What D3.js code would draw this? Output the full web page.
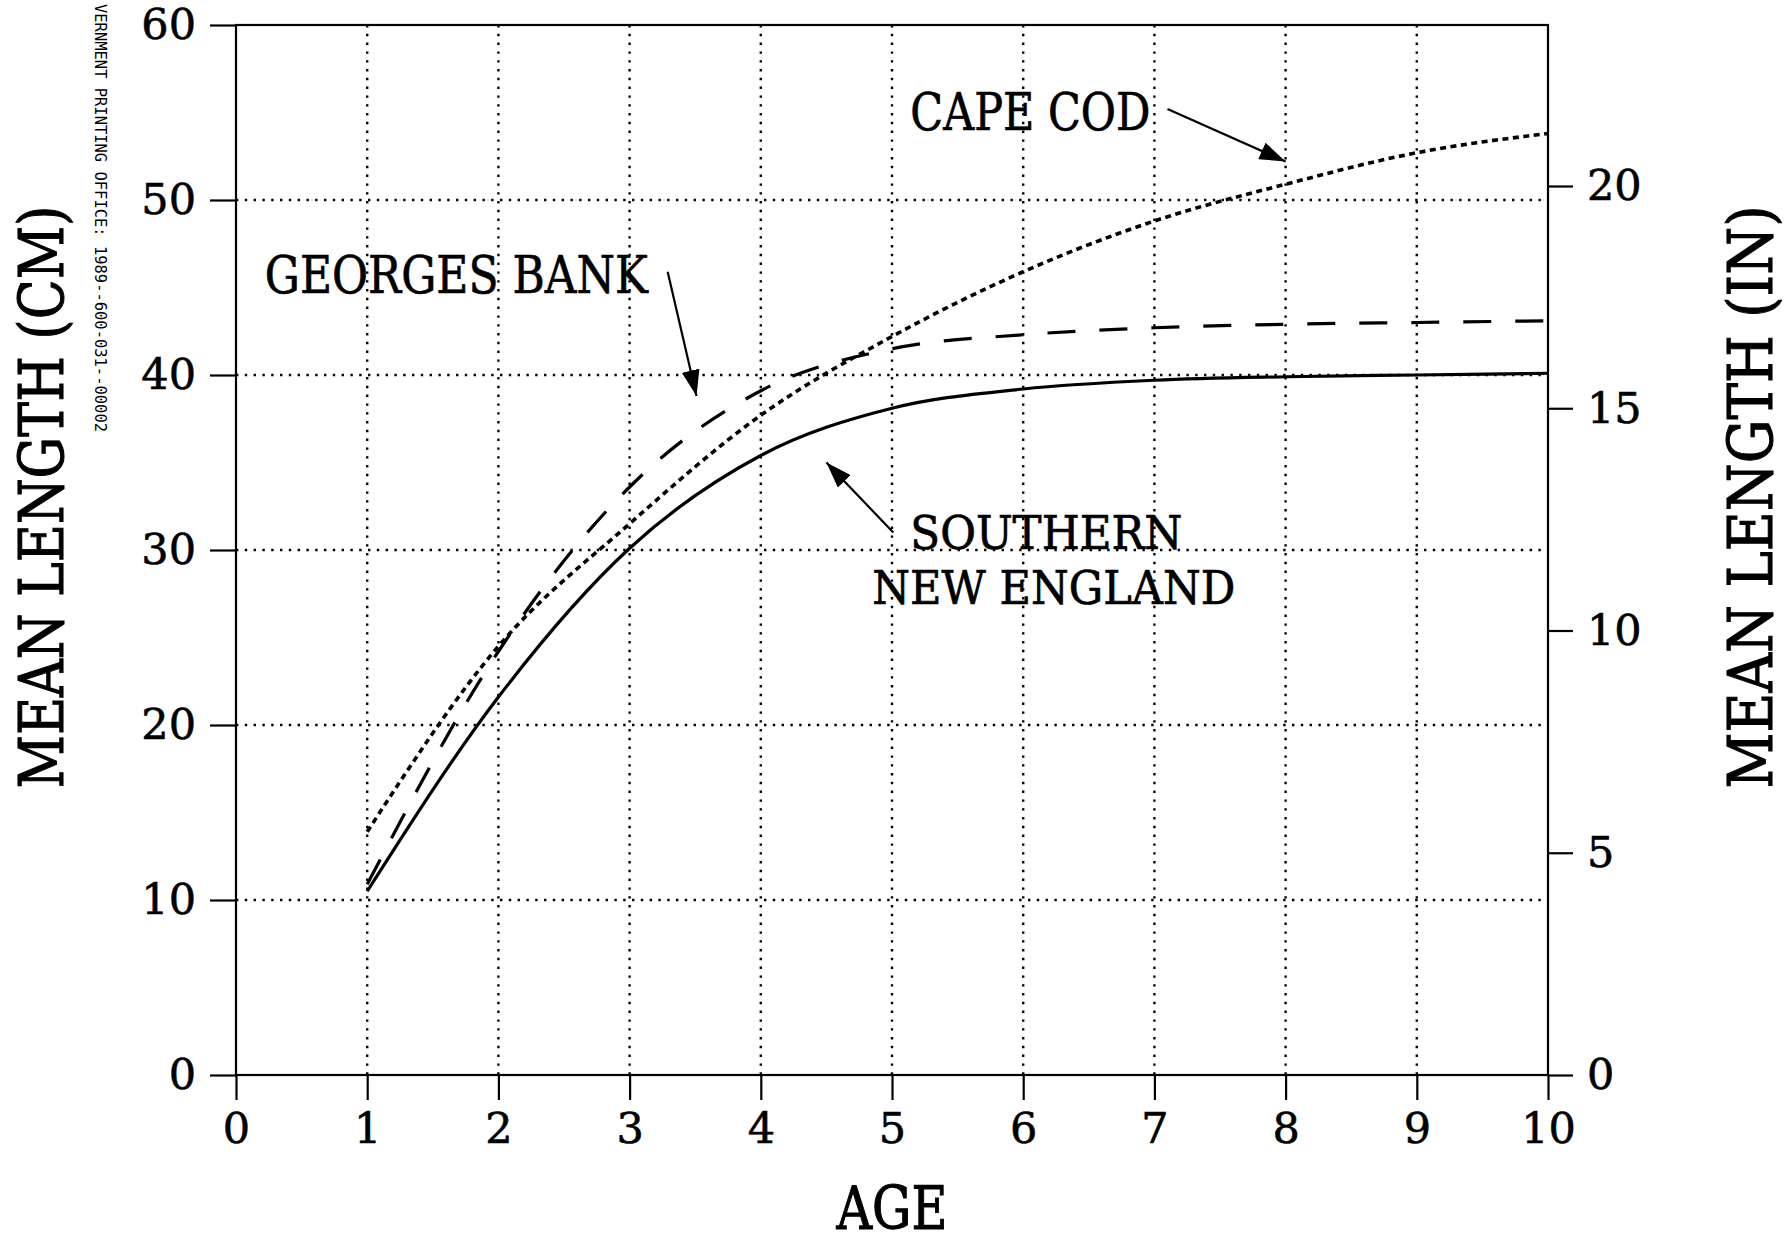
<!DOCTYPE html>
<style>
body { margin: 0; background: #fff; }
text { font-family: "DejaVu Serif", serif; fill: #000; stroke: #000; stroke-width: 0.7; }
.axis .domain { display: none; }
.axis line { stroke: #000; stroke-width: 2.2; }
.axis text { font-family: "DejaVu Serif", serif; font-size: 43px; stroke: #000; stroke-width: 0.6; }
</style>
<svg width="1790" height="1245" class="chart"></svg>
<script src="https://d3js.org/d3.v7.min.js"></script>
<script>

var ages = [1, 2, 3, 4, 5, 6, 7, 8, 9, 10];
var southernNE = [10.5, 21.6, 30.1, 35.4, 38.1, 39.2, 39.7, 39.9, 40.0, 40.1];
var capeCod    = [13.9, 24.5, 31.5, 37.7, 42.2, 45.9, 48.8, 50.9, 52.7, 53.8];
var georges    = [10.9, 24.2, 33.6, 39.1, 41.5, 42.3, 42.7, 42.9, 43.0, 43.1];

var ageTicks = [0, 1, 2, 3, 4, 5, 6, 7, 8, 9, 10];
var cmTicks = [0, 10, 20, 30, 40, 50, 60];
var inTicks = [0, 5, 10, 15, 20];

var svg = d3.select(".chart"),
    margin = {top: 25, right: 242, bottom: 170, left: 236},
    width = +svg.attr("width") - margin.left - margin.right,
    height = +svg.attr("height") - margin.top - margin.bottom,
    g = svg.append("g").attr("transform", "translate(" + margin.left + "," + margin.top + ")");

var x = d3.scaleLinear().domain([0, 10]).range([0, width]);
var y = d3.scaleLinear().domain([0, 60]).range([height, 0]);
var yIn = d3.scaleLinear().domain([0, 60 / 2.54]).range([height, 0]);

// dotted grid
g.append("g")
  .selectAll("line")
  .data(ages.slice(0, 9))
  .enter().append("line")
    .attr("x1", function(d) { return x(d); })
    .attr("x2", function(d) { return x(d); })
    .attr("y1", 0)
    .attr("y2", height)
    .attr("stroke", "#000")
    .attr("stroke-width", 2.4)
    .attr("stroke-dasharray", "2.4,6.4");

g.append("g")
  .selectAll("line")
  .data(cmTicks.slice(1, 6))
  .enter().append("line")
    .attr("x1", 0)
    .attr("x2", width)
    .attr("y1", function(d) { return y(d); })
    .attr("y2", function(d) { return y(d); })
    .attr("stroke", "#000")
    .attr("stroke-width", 2.4)
    .attr("stroke-dasharray", "2.4,6.4");

// frame
g.append("rect")
    .attr("width", width)
    .attr("height", height)
    .attr("fill", "none")
    .attr("stroke", "#000")
    .attr("stroke-width", 2.2);

// axes
g.append("g")
    .attr("class", "axis")
    .attr("transform", "translate(0," + height + ")")
    .call(d3.axisBottom(x).tickValues(ageTicks).tickSize(25).tickPadding(12).tickFormat(d3.format("d")));

g.append("g")
    .attr("class", "axis")
    .call(d3.axisLeft(y).tickValues(cmTicks).tickSize(26).tickPadding(14).tickFormat(d3.format("d")));

g.append("g")
    .attr("class", "axis")
    .attr("transform", "translate(" + width + ",0)")
    .call(d3.axisRight(yIn).tickValues(inTicks).tickSize(25).tickPadding(14).tickFormat(d3.format("d")));

// curves
var line = d3.line()
    .x(function(d) { return x(d[0]); })
    .y(function(d) { return y(d[1]); })
    .curve(d3.curveMonotoneX);

function pairs(vals) { return ages.map(function(a, i) { return [a, vals[i]]; }); }

g.append("path")
    .datum(pairs(southernNE))
    .attr("d", line)
    .attr("fill", "none")
    .attr("stroke", "#000")
    .attr("stroke-width", 3.2);

g.append("path")
    .datum(pairs(capeCod))
    .attr("d", line)
    .attr("fill", "none")
    .attr("stroke", "#000")
    .attr("stroke-width", 3.6)
    .attr("stroke-dasharray", "6,4.5");

g.append("path")
    .datum(pairs(georges))
    .attr("d", line)
    .attr("fill", "none")
    .attr("stroke", "#000")
    .attr("stroke-width", 3.2)
    .attr("stroke-dasharray", "28,24");

// arrows
svg.append("defs").append("marker")
    .attr("id", "head")
    .attr("markerUnits", "userSpaceOnUse")
    .attr("viewBox", "0 -9 26 18")
    .attr("refX", 26)
    .attr("refY", 0)
    .attr("markerWidth", 26)
    .attr("markerHeight", 18)
    .attr("orient", "auto")
  .append("path")
    .attr("d", "M0,-9L26,0L0,9Z")
    .attr("fill", "#000");

var arrows = [
  [[7.1, 55.2], [8.0, 52.2]],
  [[3.29, 45.9], [3.51, 38.8]],
  [[5.01, 31.0], [4.5, 35.0]]
];

g.append("g")
  .selectAll("line")
  .data(arrows)
  .enter().append("line")
    .attr("x1", function(d) { return x(d[0][0]); })
    .attr("y1", function(d) { return y(d[0][1]); })
    .attr("x2", function(d) { return x(d[1][0]); })
    .attr("y2", function(d) { return y(d[1][1]); })
    .attr("stroke", "#000")
    .attr("stroke-width", 2.2)
    .attr("marker-end", "url(#head)");

// curve labels
var labels = [
  {text: "CAPE COD", x: 5.14, y: 54.0, len: 240, size: 52},
  {text: "GEORGES BANK", x: 0.22, y: 44.7, len: 383, size: 52},
  {text: "SOUTHERN", x: 5.14, y: 30.05, len: 272, size: 46},
  {text: "NEW ENGLAND", x: 4.85, y: 26.9, len: 363, size: 46}
];

g.append("g")
  .selectAll("text")
  .data(labels)
  .enter().append("text")
    .attr("x", function(d) { return x(d.x); })
    .attr("y", function(d) { return y(d.y); })
    .attr("font-size", function(d) { return d.size; })
    .attr("textLength", function(d) { return d.len; })
    .attr("lengthAdjust", "spacingAndGlyphs")
    .text(function(d) { return d.text; });

// axis titles
svg.append("text")
    .attr("transform", "translate(63,497) rotate(-90)")
    .attr("text-anchor", "middle")
    .attr("font-size", 62)
    .style("stroke-width", 1.1)
    .attr("textLength", 583)
    .attr("lengthAdjust", "spacingAndGlyphs")
    .text("MEAN LENGTH (CM)");

svg.append("text")
    .attr("transform", "translate(1772,497) rotate(-90)")
    .attr("text-anchor", "middle")
    .attr("font-size", 62)
    .style("stroke-width", 1.1)
    .attr("textLength", 583)
    .attr("lengthAdjust", "spacingAndGlyphs")
    .text("MEAN LENGTH (IN)");

svg.append("text")
    .attr("x", 892)
    .attr("y", 1229)
    .attr("text-anchor", "middle")
    .attr("font-size", 60)
    .style("stroke-width", 1.1)
    .attr("textLength", 111)
    .attr("lengthAdjust", "spacingAndGlyphs")
    .text("AGE");

svg.append("text")
    .attr("transform", "translate(95,4) rotate(90)")
    .style("font-family", "'DejaVu Sans Mono', monospace")
    .style("stroke", "none")
    .attr("font-size", 15)
    .attr("textLength", 428)
    .attr("lengthAdjust", "spacingAndGlyphs")
    .text("VERNMENT PRINTING OFFICE: 1989--600-031--00002");

</script>
